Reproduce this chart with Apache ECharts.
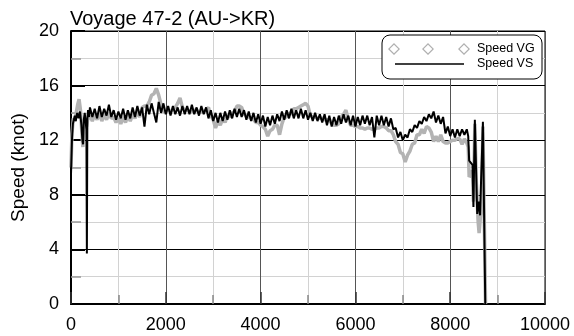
<!DOCTYPE html>
<html>
<head>
<meta charset="utf-8">
<script src="https://cdn.jsdelivr.net/npm/echarts@6/dist/echarts.min.js"></script>
<style>
  html, body { margin: 0; padding: 0; background: #fff; }
  #container { width: 574px; height: 336px; }
</style>
</head>
<body>
<div id="container"></div>
<script>
// 航段距离 / 航速数据
var bodyStart = 400, bodyStep = 50; // 中段采样: 400 ~ 8300，每 50 一个点

// Speed VS (黑线)
var vsHeadDist  = [0, 20, 40, 60, 80, 100, 130, 160, 190, 220, 240, 255, 270, 290, 310, 325, 335, 345, 360, 380];
var vsHeadSpeed = [9.5, 12.0, 13.2, 13.5, 13.8, 13.4, 14.0, 13.6, 14.1, 13.1, 12.0, 11.7, 13.5, 14.0, 13.3, 12.8, 3.7, 13.6, 14.2, 13.7];
var vsBodySpeed = [
  14.4, 13.7, 14.3, 13.6, 14.5, 13.7, 14.3, 13.8, 14.6, 13.7,
  14.2, 13.5, 14.1, 13.6, 14.3, 13.5, 14.2, 13.6, 14.4, 13.7,
  14.5, 13.8, 14.4, 13.0, 14.6, 13.9, 14.7, 14.0, 13.3, 14.8,
  14.0, 14.7, 13.9, 14.5, 13.8, 14.5, 13.9, 14.4, 13.8, 14.5,
  13.9, 14.5, 13.9, 14.6, 13.9, 14.4, 13.8, 14.5, 13.9, 14.4,
  13.6, 14.2, 13.4, 14.0, 13.3, 14.0, 13.4, 14.1, 13.5, 14.2,
  13.6, 14.3, 13.7, 14.3, 13.7, 14.2, 13.5, 14.1, 13.4, 14.0,
  13.3, 13.9, 13.2, 13.8, 13.0, 13.7, 13.1, 13.8, 13.2, 13.9,
  13.4, 14.1, 13.5, 14.2, 13.6, 14.3, 13.6, 14.2, 13.6, 14.3,
  13.6, 14.2, 13.5, 14.0, 13.4, 14.0, 13.4, 13.9, 13.3, 13.9,
  13.1, 13.8, 13.0, 13.7, 13.1, 13.8, 13.2, 13.9, 13.3, 13.8,
  13.1, 13.8, 13.0, 13.7, 13.1, 13.8, 13.2, 13.8, 13.1, 13.7,
  12.2, 13.8, 13.1, 13.8, 13.1, 13.7, 13.0, 13.6, 12.8, 12.9,
  12.2, 12.6, 12.0, 12.4, 12.2, 12.8, 12.6, 13.1, 12.9, 13.4,
  13.2, 13.7, 13.4, 13.9, 13.6, 14.1, 13.3, 13.8, 13.2, 13.7,
  12.5, 13.0, 12.3, 12.8, 12.2, 12.8, 12.3, 12.8, 12.4
];
var vsTailDist  = [8350, 8380, 8400, 8440, 8470, 8490, 8520, 8545, 8570, 8600, 8630, 8650, 8670, 8690, 8710, 8740];
var vsTailSpeed = [12.8, 12.3, 10.5, 10.4, 10.2, 7.1, 13.5, 10.0, 6.6, 7.5, 6.5, 8.9, 11.0, 13.35, 8.0, 0];

// Speed VG (灰线)
var vgHeadDist  = [0, 20, 50, 80, 110, 140, 170, 200, 230, 250, 270, 300, 330, 350, 380];
var vgHeadSpeed = [10.0, 12.5, 13.6, 13.4, 14.0, 14.6, 15.0, 14.2, 12.5, 11.5, 12.8, 13.4, 13.0, 13.5, 13.4];
var vgBodySpeed = [
  13.8, 13.4, 13.9, 13.5, 14.0, 13.4, 13.9, 13.5, 14.0, 13.6,
  13.7, 13.3, 13.6, 13.2, 13.7, 13.3, 13.8, 13.4, 13.9, 13.6,
  14.1, 13.7, 14.4, 14.5, 14.5, 14.8, 15.3, 15.4, 15.8, 15.3,
  14.6, 14.1, 14.1, 14.2, 14.1, 14.3, 14.4, 14.7, 15.1, 14.4,
  14.2, 14.2, 14.1, 14.1, 14.2, 14.2, 14.0, 14.1, 14.1, 14.2,
  14.4, 13.8, 13.5, 12.9, 13.4, 13.1, 13.6, 13.3, 13.8, 13.7,
  14.0, 14.1, 14.5, 14.5, 14.4, 13.9, 13.8, 13.7, 13.6, 13.5,
  13.3, 13.3, 13.1, 13.0, 12.8, 12.3, 12.7, 12.8, 13.1, 13.1,
  12.4, 13.2, 13.7, 13.7, 14.0, 13.9, 14.3, 14.3, 14.4, 14.5,
  14.6, 14.7, 14.5, 13.8, 13.7, 13.7, 13.6, 13.6, 13.6, 13.5,
  13.5, 13.5, 13.2, 13.1, 13.1, 13.2, 13.7, 13.9, 14.2, 13.5,
  13.1, 13.1, 13.0, 13.0, 12.9, 12.9, 12.8, 12.9, 12.9, 12.8,
  12.8, 12.9, 12.9, 13.0, 13.0, 12.9, 12.7, 12.7, 12.4, 11.9,
  11.7, 11.1, 11.0, 10.4, 10.9, 11.2, 11.7, 11.8, 12.4, 12.4,
  12.8, 12.5, 13.0, 12.9, 12.6, 11.9, 12.3, 11.9, 12.4, 11.9,
  11.8, 11.8, 11.9, 12.0, 12.0, 12.1, 12.1, 11.7, 12.1
];
var vgTailDist  = [8350, 8380, 8400, 8440, 8470, 8490, 8520, 8550, 8590, 8610, 8640, 8660, 8690, 8720, 8745];
var vgTailSpeed = [11.8, 11.5, 9.3, 9.5, 9.8, 7.5, 13.2, 9.0, 6.0, 5.2, 6.5, 7.2, 13.0, 6.0, 0];

var yTicks = [0, 4, 8, 12, 16, 20];
var xTicks = [0, 2000, 4000, 6000, 8000, 10000];

function buildPairs(headX, headY, body, tailX, tailY) {
    var out = [];
    for (var i = 0; i < headX.length; i++) out.push([headX[i], headY[i]]);
    for (var j = 0; j < body.length; j++) out.push([bodyStart + j * bodyStep, body[j]]);
    for (var k = 0; k < tailX.length; k++) out.push([tailX[k], tailY[k]]);
    return out;
}

var vsData = buildPairs(vsHeadDist, vsHeadSpeed, vsBodySpeed, vsTailDist, vsTailSpeed);
var vgData = buildPairs(vgHeadDist, vgHeadSpeed, vgBodySpeed, vgTailDist, vgTailSpeed);

var FONT = '"Liberation Sans", Arial, sans-serif';
// 三个空心菱形的图例图标
var diamondIcon = 'path://' +
    'M6,0L12,6L6,12L0,6Z M6,1.7L1.7,6L6,10.3L10.3,6Z ' +
    'M40,0L46,6L40,12L34,6Z M40,1.7L35.7,6L40,10.3L44.3,6Z ' +
    'M76,0L82,6L76,12L70,6Z M76,1.7L71.7,6L76,10.3L80.3,6Z';

var option = {
    animation: false,
    backgroundColor: '#fff',
    title: {
        text: 'Voyage 47-2 (AU->KR)',
        left: 70, top: 9, padding: 0,
        textStyle: { fontFamily: FONT, fontSize: 20, fontWeight: 'normal', color: '#000' }
    },
    graphic: [{
        type: 'rect', z: 5,
        shape: { x: 382, y: 35, width: 160, height: 44, r: 8 },
        style: { fill: '#fff', stroke: '#000', lineWidth: 1 }
    }],
    legend: [{
        z: 6, left: 388, top: 42, padding: 0,
        itemWidth: 82, itemHeight: 12,
        data: [{ name: 'Speed VG', icon: diamondIcon, itemStyle: { color: '#b0b0b0' } }],
        textStyle: { fontFamily: FONT, fontSize: 12.5, lineHeight: 14, color: '#000', padding: [0, 0, 0, 2] }
    }, {
        z: 6, left: 395, top: 57, padding: 0,
        itemWidth: 69, itemHeight: 1.5,
        data: [{ name: 'Speed VS', icon: 'rect', itemStyle: { color: '#000' } }],
        textStyle: { fontFamily: FONT, fontSize: 12.5, lineHeight: 14, color: '#000', padding: [0, 0, 0, 8] }
    }],
    grid: {
        left: 71, right: 29, top: 31, bottom: 32,
        show: true, borderColor: '#000', borderWidth: 1
    },
    xAxis: {
        type: 'value', min: 0, max: 10000, interval: 2000,
        axisLine: { show: true, onZero: false, lineStyle: { color: '#000', width: 2 } },
        axisTick: { show: true, inside: true, length: 12, lineStyle: { color: '#333', width: 1.5 } },
        minorTick: { show: true, splitNumber: 2, length: 9, lineStyle: { color: '#888', width: 1.5 } },
        splitLine: { show: true, lineStyle: { color: '#555', width: 1 } },
        minorSplitLine: { show: true, lineStyle: { color: '#d2d2d2', width: 1 } },
        axisLabel: {
            fontFamily: FONT, fontSize: 18, color: '#000', margin: 12,
            formatter: function (v) { return xTicks.indexOf(v) >= 0 ? String(v) : ''; }
        }
    },
    yAxis: {
        type: 'value', min: 0, max: 20, interval: 4,
        name: 'Speed (knot)', nameLocation: 'middle', nameGap: 41,
        nameTextStyle: { fontFamily: FONT, fontSize: 19, color: '#000' },
        axisLine: { show: true, onZero: false, lineStyle: { color: '#000', width: 2 } },
        axisTick: { show: true, inside: true, length: 14, lineStyle: { color: '#000', width: 2 } },
        minorTick: { show: true, splitNumber: 2, length: 10, lineStyle: { color: '#999', width: 1.5 } },
        splitLine: { show: true, lineStyle: { color: '#000', width: 1 } },
        minorSplitLine: { show: true, lineStyle: { color: '#d2d2d2', width: 1 } },
        axisLabel: {
            fontFamily: FONT, fontSize: 18, color: '#000', margin: 12,
            formatter: function (v) { return yTicks.indexOf(v) >= 0 ? String(v) : ''; }
        }
    },
    series: [{
        name: 'Speed VG', type: 'line', data: vgData,
        showSymbol: false, symbol: 'none', z: 2,
        lineStyle: { color: '#b3b3b3', width: 3.5 },
        itemStyle: { color: '#b0b0b0' }
    }, {
        name: 'Speed VS', type: 'line', data: vsData,
        showSymbol: false, symbol: 'none', z: 3,
        lineStyle: { color: '#000', width: 2 },
        itemStyle: { color: '#000' }
    }]
};

var myChart = echarts.init(document.getElementById('container'));
myChart.setOption(option);
</script>
</body>
</html>
